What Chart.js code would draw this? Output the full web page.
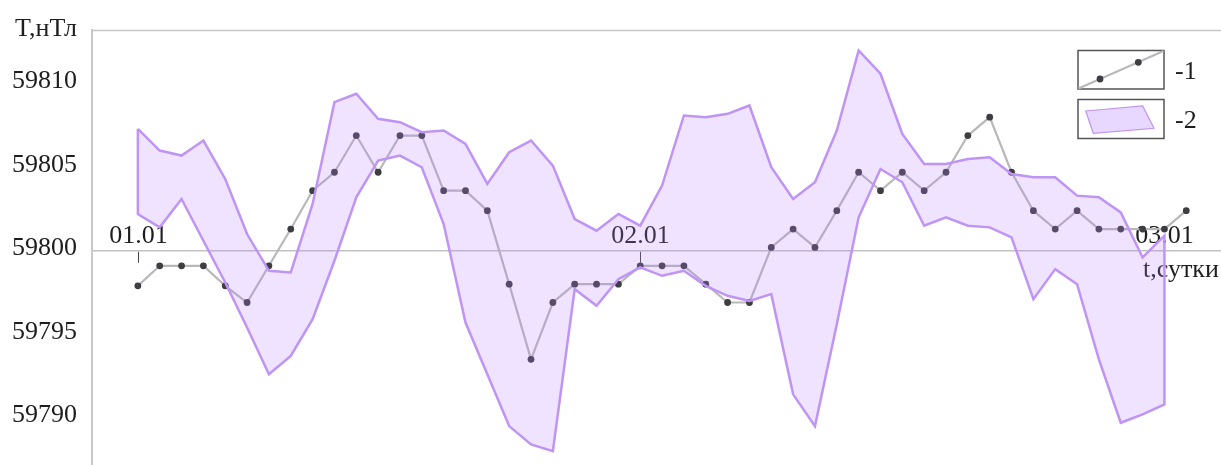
<!DOCTYPE html>
<html>
<head>
<meta charset="utf-8">
<script src="https://cdn.jsdelivr.net/npm/chart.js@4.4.1/dist/chart.umd.min.js"></script>
<style>
  html, body { margin: 0; padding: 0; background: #fff; overflow: hidden; }
  #wrap { width: 1221px; height: 465px; position: relative; }
</style>
</head>
<body>
<div id="wrap"><canvas id="c" width="1221" height="465"></canvas></div>
<script>
// Hourly samples over two days (hour index from the start of 01.01)
const hours = [0, 1, 2, 3, 4, 5, 6, 7, 8, 9, 10, 11, 12, 13, 14, 15, 16, 17, 18, 19, 20, 21, 22, 23, 24,
  25, 26, 27, 28, 29, 30, 31, 32, 33, 34, 35, 36, 37, 38, 39, 40, 41, 42, 43, 44, 45, 46, 47, 48];

// 1 — measured field T, nT
const fieldT = [59797.9, 59799.1, 59799.1, 59799.1, 59797.9, 59796.9, 59799.1, 59801.3, 59803.6, 59804.7,
  59806.9, 59804.7, 59806.9, 59806.9, 59803.6, 59803.6, 59802.4, 59798.0, 59793.5, 59796.9,
  59798.0, 59798.0, 59798.0, 59799.1, 59799.1, 59799.1, 59798.0, 59796.9, 59796.9, 59800.2,
  59801.3, 59800.2, 59802.4, 59804.7, 59803.6, 59804.7, 59803.6, 59804.7, 59806.9, 59808.0,
  59804.7, 59802.4, 59801.3, 59802.4, 59801.3, 59801.3, 59801.3, 59801.3, 59802.4];

// 2 — predicted corridor, upper and lower bounds (hours 0..47)
const bandUpper = [59807.3, 59806.0, 59805.7, 59806.6, 59804.3, 59801.0, 59798.8, 59798.7, 59802.8, 59808.9,
  59809.4, 59807.9, 59807.7, 59807.1, 59807.2, 59806.4, 59804.0, 59805.9, 59806.6, 59805.1,
  59801.9, 59801.2, 59802.2, 59801.5, 59803.9, 59808.1, 59808.0, 59808.2, 59808.7, 59805.0,
  59803.1, 59804.1, 59807.2, 59812.0, 59810.6, 59807.0, 59805.2, 59805.2, 59805.5, 59805.6,
  59804.6, 59804.4, 59804.4, 59803.3, 59803.2, 59802.3, 59799.6, 59800.9];
const bandLower = [59802.2, 59801.4, 59803.1, 59800.6, 59798.1, 59795.4, 59792.6, 59793.7, 59795.9, 59799.4,
  59803.2, 59805.4, 59805.7, 59805.0, 59801.6, 59795.7, 59792.6, 59789.5, 59788.4, 59788.0,
  59797.7, 59796.7, 59798.3, 59799.0, 59798.5, 59798.8, 59797.9, 59797.3, 59797.0, 59797.4,
  59791.4, 59789.5, 59795.6, 59802.0, 59804.9, 59804.1, 59801.5, 59802.0, 59801.5, 59801.4,
  59800.8, 59797.1, 59798.9, 59798.0, 59793.5, 59789.7, 59790.2, 59790.8];

// Axis ticks
const dayTicks = [0, 23, 47];
const dayLabels = ['01.01', '02.01', '03.01'];
const yTicks = [59790, 59795, 59800, 59805, 59810];
const yTitle = 'T,нТл';
const xTitle = 't,сутки';
const legendLabels = ['-1', '-2'];

const SERIF = '"Liberation Serif", "Times New Roman", serif';
const TEXT = '#1e1e1e';
const BAND_FILL = 'rgba(180,126,255,0.22)';
const BAND_LINE = 'rgb(190,148,245)';
const T_LINE = '#b8b8b8';
const T_DOT = '#3d3d42';

// Field series as x/y pairs
const fieldPoints = hours.map((h, i) => ({ x: h, y: fieldT[i] }));

// Corridor as a closed outline: upper edge forward, lower edge back
const bandOutline = [];
for (let i = 0; i < bandUpper.length; i++) bandOutline.push({ x: hours[i], y: bandUpper[i] });
for (let i = bandLower.length - 1; i >= 0; i--) bandOutline.push({ x: hours[i], y: bandLower[i] });
bandOutline.push({ x: hours[0], y: bandUpper[0] });

const decor = {
  id: 'decor',
  beforeDatasetsDraw(chart) {
    const { ctx, chartArea: a, scales: { x, y } } = chart;
    ctx.save();
    // top frame line
    ctx.strokeStyle = '#c6c6c6';
    ctx.lineWidth = 1.5;
    ctx.beginPath();
    ctx.moveTo(a.left, a.top + 0.5);
    ctx.lineTo(a.right, a.top + 0.5);
    ctx.stroke();

    const y0 = y.getPixelForValue(59800);
    ctx.font = '26px ' + SERIF;
    ctx.fillStyle = TEXT;
    ctx.textBaseline = 'alphabetic';
    // day marks below the zero line, dates above it
    dayTicks.forEach((d, i) => {
      const px = Math.round(x.getPixelForValue(d)) + 0.5;
      ctx.strokeStyle = '#444';
      ctx.lineWidth = 1;
      ctx.beginPath();
      ctx.moveTo(px, y0 + 1);
      ctx.lineTo(px, y0 + 12);
      ctx.stroke();
      ctx.textAlign = 'center';
      ctx.fillText(dayLabels[i], px, y0 - 8);
    });
    // axis titles
    ctx.textAlign = 'right';
    ctx.fillText(yTitle, 77, 36);
    ctx.textAlign = 'left';
    ctx.fillText(xTitle, 1143, y0 + 26);
    ctx.restore();
  },
  afterDraw(chart) {
    const { ctx } = chart;
    ctx.save();
    // legend box 1: line with markers
    ctx.strokeStyle = '#555';
    ctx.lineWidth = 1.5;
    ctx.strokeRect(1078, 50.5, 86, 38.5);
    ctx.strokeRect(1078, 99.5, 86, 39);
    ctx.strokeStyle = T_LINE;
    ctx.lineWidth = 2;
    ctx.beginPath();
    ctx.moveTo(1078.5, 88.5);
    ctx.lineTo(1163.5, 51);
    ctx.stroke();
    ctx.fillStyle = T_DOT;
    [[1100, 79], [1138.3, 62.3]].forEach(([px, py]) => {
      ctx.beginPath();
      ctx.arc(px, py, 3.4, 0, Math.PI * 2);
      ctx.fill();
    });
    // legend box 2: corridor swatch
    ctx.beginPath();
    ctx.moveTo(1085.7, 111);
    ctx.lineTo(1142.7, 106);
    ctx.lineTo(1154, 128.3);
    ctx.lineTo(1093.3, 133.3);
    ctx.closePath();
    ctx.fillStyle = 'rgba(180,126,255,0.3)';
    ctx.fill();
    ctx.strokeStyle = BAND_LINE;
    ctx.lineWidth = 1.2;
    ctx.stroke();
    // legend labels
    ctx.font = '26px ' + SERIF;
    ctx.fillStyle = TEXT;
    ctx.textAlign = 'left';
    ctx.textBaseline = 'alphabetic';
    ctx.fillText(legendLabels[0], 1175, 79);
    ctx.fillText(legendLabels[1], 1175, 128);
    ctx.restore();
  }
};

new Chart(document.getElementById('c'), {
  type: 'line',
  data: {
    datasets: [
      {
        label: '2',
        data: bandOutline,
        order: 0,
        fill: 'shape',
        backgroundColor: BAND_FILL,
        borderColor: BAND_LINE,
        borderWidth: 2.5,
        pointRadius: 0,
        tension: 0
      },
      {
        label: '1',
        data: fieldPoints,
        order: 1,
        fill: false,
        borderColor: T_LINE,
        borderWidth: 2.2,
        pointRadius: 3.4,
        pointBackgroundColor: T_DOT,
        pointBorderWidth: 0,
        tension: 0
      }
    ]
  },
  options: {
    responsive: false,
    animation: false,
    events: [],
    layout: { autoPadding: false, padding: { top: 30, left: 0, right: 0, bottom: 0 } },
    plugins: { legend: { display: false }, tooltip: { enabled: false } },
    scales: {
      x: { type: 'linear', display: false, min: -2.10, max: 49.59 },
      y: {
        type: 'linear',
        min: 59787.17,
        max: 59813.22,
        afterBuildTicks: s => { s.ticks = yTicks.map(v => ({ value: v })); },
        afterFit: s => { s.width = 92; s.paddingTop = 0; s.paddingBottom = 0; },
        ticks: {
          font: { family: SERIF, size: 26 },
          color: TEXT,
          padding: 15,
          labelOffset: -2.5,
          callback: v => String(v)
        },
        grid: {
          drawTicks: false,
          lineWidth: 1.5,
          color: c => (c.tick && c.tick.value === 59800) ? '#c2c2c2' : 'rgba(0,0,0,0)'
        },
        border: { display: true, color: '#c8c8c8', width: 2 }
      }
    }
  },
  plugins: [decor]
});
</script>
</body>
</html>
